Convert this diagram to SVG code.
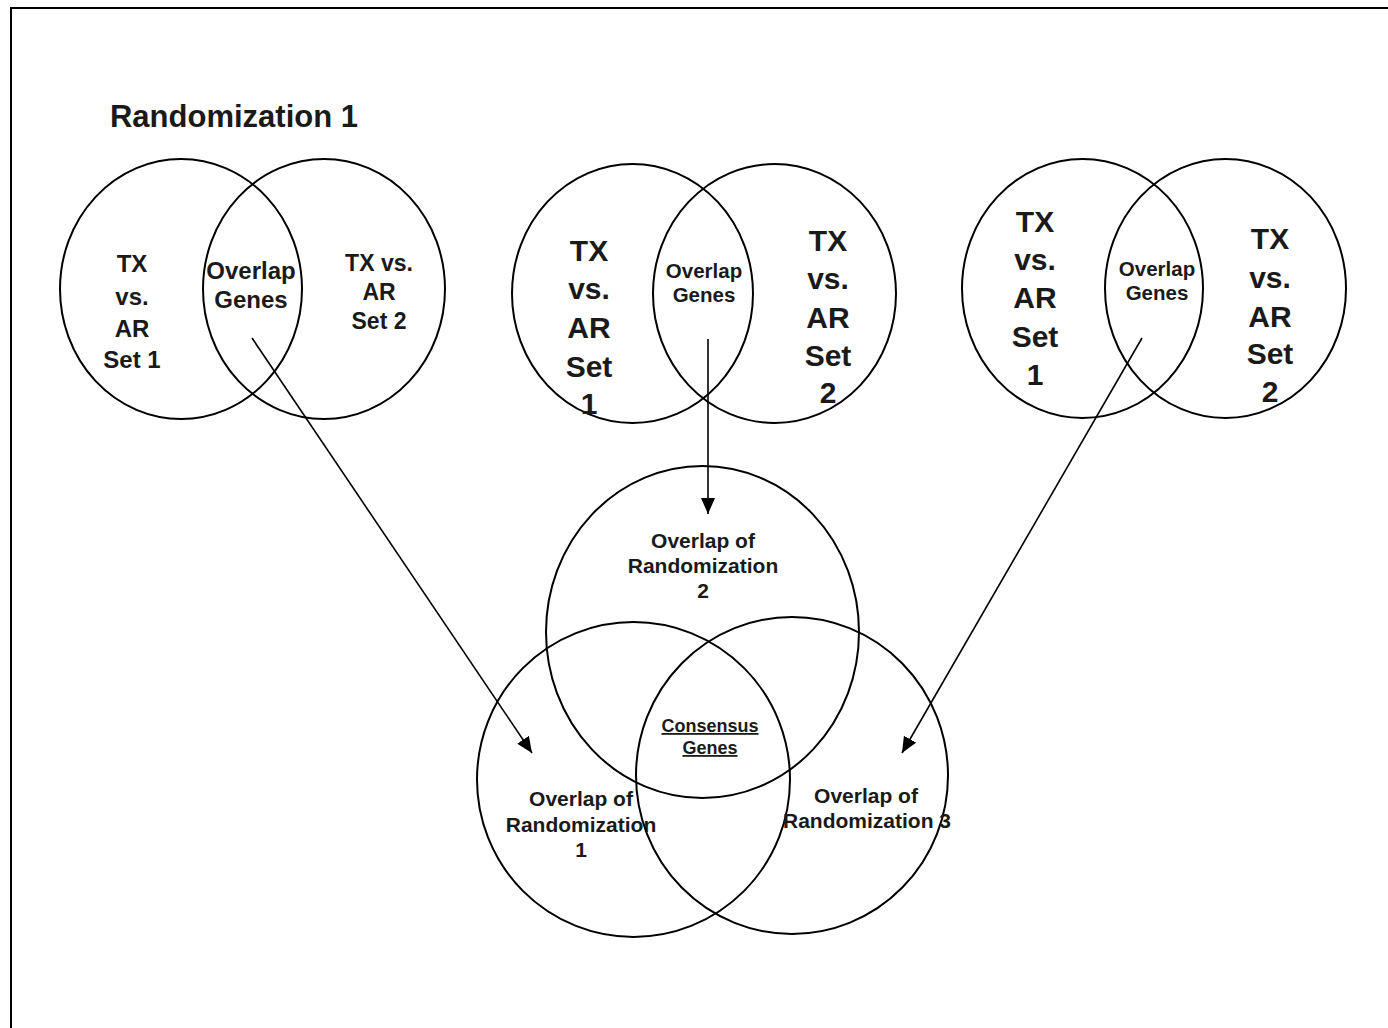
<svg xmlns="http://www.w3.org/2000/svg" width="1388" height="1028" viewBox="0 0 1388 1028">
<style>
.c{fill:none;stroke:#000;stroke-width:2}
.t{font-family:"Liberation Sans",Arial,sans-serif;font-weight:bold;fill:#1a1a1a;text-anchor:middle}
.s24{font-size:24px}
.s30{font-size:30px}
.s21{font-size:21px}
.s18{font-size:18px;text-decoration:underline}
.conn{stroke:#000;stroke-width:1.6;fill:none}
</style>
<defs>
<marker id="ah" viewBox="0 0 16 14" refX="16" refY="7" markerWidth="16" markerHeight="14" markerUnits="userSpaceOnUse" orient="auto">
<path d="M0,0 L16,7 L0,14 z" fill="#000"/>
</marker>
</defs>
<rect width="1388" height="1028" fill="#fff"/>
<g id="frame">
<line x1="11" y1="8" x2="1388" y2="8" stroke="#000" stroke-width="2"/>
<line x1="11" y1="7" x2="11" y2="1028" stroke="#000" stroke-width="2"/>
</g>
<g id="title">
<text class="t" x="234" y="127" style="font-size:31px">Randomization 1</text>
</g>
<g id="rand1">
<ellipse class="c" cx="181" cy="289" rx="121" ry="130"/>
<ellipse class="c" cx="324" cy="289" rx="121" ry="130"/>
<text class="t s24"><tspan x="132" y="272">TX</tspan><tspan x="132" y="305">vs.</tspan><tspan x="132" y="337">AR</tspan><tspan x="132" y="368">Set 1</tspan></text>
<text class="t s24"><tspan x="251" y="279">Overlap</tspan><tspan x="251" y="308">Genes</tspan></text>
<text class="t s24" style="font-size:23px"><tspan x="379" y="271">TX vs.</tspan><tspan x="379" y="300">AR</tspan><tspan x="379" y="329">Set 2</tspan></text>
</g>
<g id="rand2">
<ellipse class="c" cx="632.5" cy="293.5" rx="120.5" ry="129.5"/>
<ellipse class="c" cx="774.5" cy="293.5" rx="121.5" ry="129.5"/>
<text class="t s30"><tspan x="589" y="261">TX</tspan><tspan x="589" y="299">vs.</tspan><tspan x="589" y="338">AR</tspan><tspan x="589" y="377">Set</tspan><tspan x="589" y="414">1</tspan></text>
<text class="t" style="font-size:20.5px"><tspan x="704" y="278">Overlap</tspan><tspan x="704" y="302">Genes</tspan></text>
<text class="t s30"><tspan x="828" y="251">TX</tspan><tspan x="828" y="289">vs.</tspan><tspan x="828" y="328">AR</tspan><tspan x="828" y="366">Set</tspan><tspan x="828" y="403">2</tspan></text>
</g>
<g id="rand3">
<ellipse class="c" cx="1082.5" cy="288.5" rx="120.5" ry="129.5"/>
<ellipse class="c" cx="1225.5" cy="288.5" rx="120.5" ry="129.5"/>
<text class="t s30"><tspan x="1035" y="232">TX</tspan><tspan x="1035" y="270">vs.</tspan><tspan x="1035" y="308">AR</tspan><tspan x="1035" y="347">Set</tspan><tspan x="1035" y="385">1</tspan></text>
<text class="t" style="font-size:20.5px"><tspan x="1157" y="276">Overlap</tspan><tspan x="1157" y="300">Genes</tspan></text>
<text class="t s30"><tspan x="1270" y="249">TX</tspan><tspan x="1270" y="288">vs.</tspan><tspan x="1270" y="327">AR</tspan><tspan x="1270" y="364">Set</tspan><tspan x="1270" y="402">2</tspan></text>
</g>
<g id="overlap2">
<ellipse class="c" cx="702.5" cy="632" rx="156.5" ry="166"/>
<text class="t s21"><tspan x="703" y="548">Overlap of</tspan><tspan x="703" y="573">Randomization</tspan><tspan x="703" y="598">2</tspan></text>
</g>
<g id="overlap1">
<ellipse class="c" cx="633.5" cy="779.5" rx="156.5" ry="157.5"/>
<text class="t s21"><tspan x="581" y="806">Overlap of</tspan><tspan x="581" y="832">Randomization</tspan><tspan x="581" y="857">1</tspan></text>
</g>
<g id="overlap3">
<ellipse class="c" cx="792" cy="775.5" rx="156" ry="158.5"/>
<text class="t s21"><tspan x="866" y="803">Overlap of</tspan><tspan x="867" y="828">Randomization 3</tspan></text>
</g>
<g id="consensus">
<text class="t s18"><tspan x="710" y="732">Consensus</tspan><tspan x="710" y="754">Genes</tspan></text>
</g>
<g id="connectors">
<line class="conn" x1="252" y1="338" x2="532" y2="753" marker-end="url(#ah)"/>
<line class="conn" x1="708" y1="339" x2="708" y2="514" marker-end="url(#ah)"/>
<line class="conn" x1="1142" y1="338" x2="902" y2="753" marker-end="url(#ah)"/>
</g>
</svg>
